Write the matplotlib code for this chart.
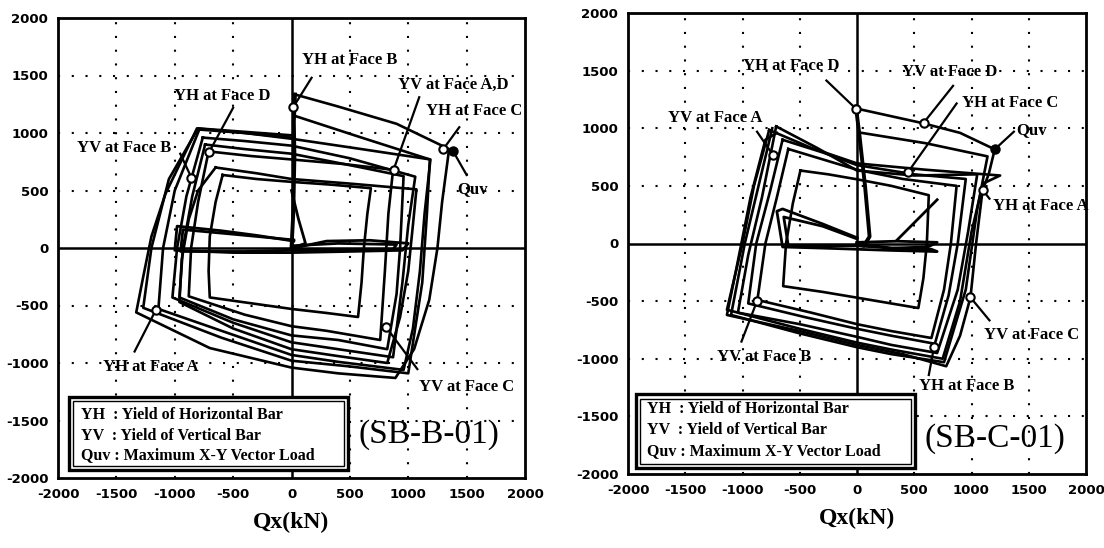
import matplotlib
matplotlib.use("Agg")
import matplotlib.pyplot as plt
from matplotlib.patches import Rectangle

plt.rcParams['axes.unicode_minus'] = False

TICKS = [-2000, -1500, -1000, -500, 0, 500, 1000, 1500, 2000]
GRID = [-1500, -1000, -500, 500, 1000, 1500]
LEGEND_LINES = ['YH  : Yield of Horizontal Bar',
                'YV  : Yield of Vertical Bar',
                'Quv : Maximum X-Y Vector Load']

# ---------------- SB-B-01 (left) ----------------
B_YPATH_QX = [0, 15, 25, 20, 30]
B_YPATH_QY = [0, 300, 800, 1100, 1335]

B_FLAT_QX = [[20, 300, 670, 1000, 950, 500, 0, -500, -1000, -980, -600, -300, 20],
             [20, 400, 900, 870, 400, 0, -400, -950, -930, -500, 20],
             [0, 120, 60, 0]]
B_FLAT_QY = [[0, 60, 67, 40, -20, -30, -40, -40, -20, 190, 150, 110, 60],
             [20, 40, 30, -10, -20, -20, -30, -30, 160, 120, 70],
             [0, 40, 250, 500]]

B_LOOP_QX = [
    [-590, -300, 0, 350, 680, 650, 620, 600, 570, 300, 0, -350, -700, -710, -700, -650, -590],
    [-710, -350, 0, 450, 870, 830, 800, 760, 300, 0, -400, -880, -860, -800, -710],
    [-650, -300, 0, 500, 1070, 1040, 1000, 930, 820, 400, 0, -500, -960, -940, -880, -800, -650],
    [-740, -400, 0, 600, 960, 930, 900, 820, 400, 0, -500, -960, -930, -850, -740],
    [-760, -400, 0, 500, 1060, 1000, 950, 870, 400, 0, -500, -1020, -980, -900, -760],
    [-790, -400, 0, 600, 1190, 1140, 1100, 1040, 960, 400, 0, -600, -1140, -1100, -1000, -790],
    [25, 600, 1185, 1160, 1120, 1000, 500, 0, -600, -1270, -1200, -1050, -800, -400, 0],
    [30, 400, 900, 1350, 1290, 1250, 1180, 1050, 890, 400, 0, -700, -1330, -1270, -1200, -1080,
     -810, -400, 0],
]
B_LOOP_QY = [
    [635, 600, 575, 550, 520, 300, 0, -300, -600, -565, -530, -480, -430, -200, 100, 400, 635],
    [840, 800, 770, 730, 680, 300, -200, -800, -720, -680, -580, -420, 0, 400, 840],
    [700, 650, 600, 560, 510, 200, -200, -600, -1000, -940, -880, -700, -470, -100, 250, 500, 700],
    [900, 860, 820, 700, 625, 0, -400, -880, -800, -760, -620, -430, 0, 450, 900],
    [960, 930, 890, 780, 620, 200, -300, -950, -880, -820, -650, -430, 0, 450, 960],
    [1030, 1000, 950, 860, 770, 300, -200, -700, -1060, -990, -930, -720, -530, 0, 500, 1030],
    [1150, 960, 770, 300, -300, -1090, -1030, -980, -780, -520, 0, 600, 1040, 1010, 980],
    [1335, 1230, 1080, 860, 400, 0, -450, -880, -1130, -1090, -1040, -870, -560, -250, 100, 470,
     1040, 1000, 960],
]

B_NOTE_TEXT = ['YH at Face B', 'YH at Face D', 'YV at Face B', 'YV at Face A,D',
               'YH at Face C', 'Quv', 'YH at Face A', 'YV at Face C']
B_NOTE_QX = [15, -706, -857, 875, 1300, 1385, -1160, 812]
B_NOTE_QY = [1225, 833, 611, 682, 860, 840, -535, -690]

# ---------------- SB-C-01 (right) ----------------
C_YPATH_QX = [0, 60, 110, 70, 20, -10]
C_YPATH_QY = [0, -20, 60, 500, 950, 1190]

C_FLAT_QX = [[0, 300, 650, 700, 300, 0, -300, -650, -700, -650, -300, 0],
             [0, 350, 700, 620, 300, 0, -600, -640, -300, 0],
             [350, 700]]
C_FLAT_QY = [[0, -40, -50, -70, -60, -50, -40, -30, 280, 300, 170, 50],
             [10, 20, 10, -30, -40, -20, -20, 230, 150, 40],
             [30, 380]]

C_LOOP_QX = [
    [-494, -250, 0, 300, 627, 610, 580, 536, 0, -300, -645, -620, -560, -494],
    [-600, -300, 0, 400, 870, 820, 760, 650, 300, 0, -400, -870, -800, -700, -600],
    [-650, -300, 0, 500, 950, 880, 800, 680, 300, 0, -450, -950, -880, -760, -650],
    [-706, -350, 0, 500, 1050, 970, 880, 700, 300, 0, -500, -1040, -950, -830, -706],
    [-767, -400, 0, 600, 1250, 1100, 1000, 900, 748, 300, 0, -500, -1136, -1000, -900, -767],
    [40, 600, 1140, 1050, 950, 760, 300, 0, -500, -1100, -980, -860, -740],
    [0, 570, 900, 1203, 1150, 1097, 1040, 991, 900, 779, 400, 0, -500, -1136, -1050, -930,
     -800, -700],
]
C_LOOP_QY = [
    [633, 600, 557, 500, 419, 0, -300, -560, -470, -420, -370, 0, 350, 633],
    [820, 730, 640, 560, 500, 0, -400, -820, -760, -700, -600, -490, 0, 400, 820],
    [900, 790, 680, 600, 560, 0, -450, -870, -800, -740, -640, -520, 0, 450, 900],
    [1016, 830, 633, 590, 600, 100, -400, -950, -880, -810, -700, -600, -100, 400, 1016],
    [985, 830, 695, 640, 590, 520, 100, -500, -1000, -920, -860, -740, -575, 0, 500, 985],
    [960, 870, 756, 300, -400, -1030, -960, -900, -780, -620, 0, 500, 1000],
    [1170, 1045, 960, 817, 600, 465, 0, -468, -800, -1065, -960, -880, -760, -620, -200, 400,
     900, 960],
]

C_NOTE_TEXT = ['YH at Face D', 'YV at Face D', 'YH at Face C', 'Quv', 'YV at Face A',
               'YH at Face A', 'YV at Face C', 'YV at Face B', 'YH at Face B']
C_NOTE_QX = [-9, 582, 445, 1203, -736, 1097, 991, -873, 673]
C_NOTE_QY = [1169, 1047, 618, 817, 771, 465, -468, -499, -897]

# label placement (text centre, then start of leader line)
B_LABEL_POS = [(500, 1633), (-594, 1326), (-1430, 866), (1390, 1418),
               (1560, 1188), (1547, 513), (-1203, -1038), (1500, -1206)]
B_LEADER_POS = [(172, 1480), (-500, 1219), (-953, 820), (1094, 1311),
                (1437, 1050), (1500, 635), (-1344, -900), (1078, -1053)]
C_LABEL_POS = [(-570, 1536), (809, 1490), (1340, 1215), (1521, 985), (-1236, 1092),
               (1604, 327), (1521, -790), (-812, -988), (961, -1233)]
C_LEADER_POS = [(-267, 1414), (839, 1368), (870, 1215), (1370, 970), (-873, 970),
                (1157, 389), (1157, -667), (-1009, -851), (627, -1141)]

SERIF = 'Liberation Serif'


def draw_panel(ax, ypath_qx, ypath_qy, flat_qx, flat_qy, loops_qx, loops_qy,
               note_text, note_qx, note_qy, label_pos, leader_pos,
               legend_box, legend_rows, tag, tag_xy):
    ax.set_xlim(-2000, 2000)
    ax.set_ylim(-2000, 2000)
    for g in GRID:
        ax.axvline(g, color='black', lw=1.5, ls=(0, (1, 5.6)), zorder=1)
        ax.axhline(g, color='black', lw=1.5, ls=(0, (1, 5.6)), zorder=1)
    ax.axvline(0, color='black', lw=1.8, zorder=1)
    ax.axhline(0, color='black', lw=1.8, zorder=1)

    for qx, qy in zip(flat_qx, flat_qy):
        ax.plot(qx, qy, color='black', lw=2.0, zorder=2)
    for qx, qy in zip(loops_qx, loops_qy):
        ax.plot(qx, qy, color='black', lw=1.9, zorder=2)
    ax.plot(ypath_qx, ypath_qy, color='black', lw=2.8, zorder=2)

    for i, txt in enumerate(note_text):
        px, py = note_qx[i], note_qy[i]
        lx, ly = leader_pos[i]
        ax.plot([lx, px], [ly, py], color='black', lw=1.6, zorder=3)
        face = 'black' if txt == 'Quv' else 'white'
        ax.plot(px, py, 'o', ms=6, mfc=face, mec='black', mew=1.5, zorder=4)
        tx, ty = label_pos[i]
        ax.text(tx, ty, txt, ha='center', va='center', fontsize=12,
                fontweight='bold', family=SERIF, zorder=5)

    x0, y0, w, h = legend_box
    ax.add_patch(Rectangle((x0, y0), w, h, facecolor='white', edgecolor='black',
                           lw=2.4, zorder=6))
    ax.add_patch(Rectangle((x0 + 35, y0 + 35), w - 70, h - 70, facecolor='none',
                           edgecolor='black', lw=1.0, zorder=6))
    for line, ry in zip(LEGEND_LINES, legend_rows):
        ax.text(x0 + 100, ry, line, ha='left', va='center', fontsize=11.5,
                fontweight='bold', family=SERIF, zorder=7)
    ax.text(tag_xy[0], tag_xy[1], tag, ha='center', va='center', fontsize=24,
            family=SERIF, zorder=7)

    ax.set_xticks(TICKS)
    ax.set_yticks(TICKS)
    ax.set_xticklabels([str(t) for t in TICKS])
    ax.set_yticklabels([str(t) for t in TICKS])
    ax.tick_params(length=0, pad=7, labelsize=9.5)
    for lab in ax.get_xticklabels() + ax.get_yticklabels():
        lab.set_fontweight('bold')
    for s in ax.spines.values():
        s.set_linewidth(2.0)
    ax.set_xlabel('Qx(kN)', fontsize=17, fontweight='bold', family=SERIF, labelpad=8)


fig = plt.figure(figsize=(11.04, 5.48), dpi=100)
ax1 = fig.add_axes([58 / 1104, 1 - 478 / 548, 467 / 1104, 460 / 548])
ax2 = fig.add_axes([628 / 1104, 1 - 474 / 548, 458 / 1104, 461 / 548])

draw_panel(ax1, B_YPATH_QX, B_YPATH_QY, B_FLAT_QX, B_FLAT_QY, B_LOOP_QX, B_LOOP_QY,
           B_NOTE_TEXT, B_NOTE_QX, B_NOTE_QY, B_LABEL_POS, B_LEADER_POS,
           (-1906, -1928, 2390, 629), [-1452, -1636, -1805], '(SB-B-01)', (1180, -1621))
draw_panel(ax2, C_YPATH_QX, C_YPATH_QY, C_FLAT_QX, C_FLAT_QY, C_LOOP_QX, C_LOOP_QY,
           C_NOTE_TEXT, C_NOTE_QX, C_NOTE_QY, C_LABEL_POS, C_LEADER_POS,
           (-1933, -1952, 2439, 642), [-1432, -1616, -1799], '(SB-C-01)', (1203, -1692))

fig.savefig('out.png', dpi=100)
